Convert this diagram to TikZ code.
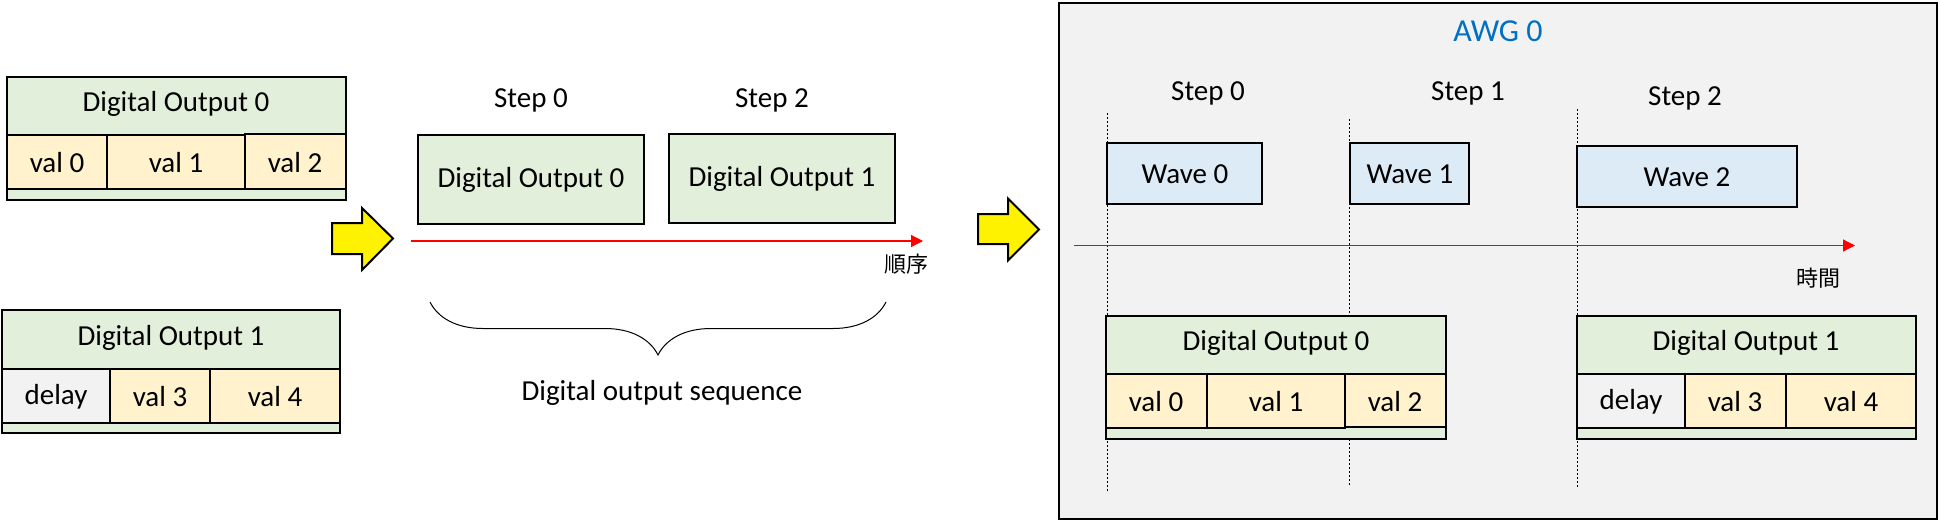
\documentclass[tikz,border=0pt]{standalone}
\usepackage{fontspec}
\setmainfont{Carlito}
\newfontfamily\jpfont{Noto Sans CJK JP}
\usetikzlibrary{arrows.meta,decorations.pathreplacing}
\definecolor{hdrgreen}{HTML}{E2EFDA}
\definecolor{valyellow}{HTML}{FFF2CC}
\definecolor{delaygray}{HTML}{F2F2F2}
\definecolor{waveblue}{HTML}{DDEBF7}
\definecolor{awgblue}{HTML}{0070C0}
\tikzset{
  cell/.style={draw, line width=1pt},
  stepline/.style={dash pattern=on 1pt off 1pt, line width=0.45pt},
  timeline/.style={draw=red, line width=0.6pt, -{Triangle[length=6pt,width=6pt]}},
  bigarrow/.style={draw, fill=yellow, line width=1pt, line join=miter},
  jp/.style={font=\jpfont\fontsize{11}{13}\selectfont}
}
\begin{document}
\begin{tikzpicture}[x=0.5pt, y=-0.5pt, font=\fontsize{14.5}{17}\selectfont]
\useasboundingbox (0,0) rectangle (1939,521);

% Digital Output 0 / 1 on their own
\path[cell, fill=hdrgreen] (7,77) rectangle (346,200);
\path[cell, fill=valyellow] (7,135) rectangle (107,189);
\path[cell, fill=valyellow] (107,135) rectangle (245,189);
\path[cell, fill=valyellow] (245,134) rectangle (346,189);
\node (ldo0) at (176,104) {Digital Output 0};
\node (lval0) at (57,163) {val 0};
\node (lval1) at (176,163) {val 1};
\node (lval2) at (295,163) {val 2};

\path[cell, fill=hdrgreen] (2,310) rectangle (340,433);
\path[cell, fill=delaygray] (2,369) rectangle (110,423);
\path[cell, fill=valyellow] (110,369) rectangle (210,423);
\path[cell, fill=valyellow] (210,369) rectangle (340,423);
\node (ldo1) at (171,338) {Digital Output 1};
\node (ldelay) at (56,397) {delay};
\node (lval3) at (160,397) {val 3};
\node (lval4) at (275,397) {val 4};

\path[bigarrow] (332,223) -- (362,223) -- (362,208) -- (393,238.5)
  -- (362,270) -- (362,254) -- (332,254) -- cycle;

% sequence
\node (sstep0) at (531,100) {Step 0};
\node (sstep2) at (772,100) {Step 2};
\path[cell, fill=hdrgreen] (418,135) rectangle (644,224);
\path[cell, fill=hdrgreen] (669,134) rectangle (895,223);
\node (sdo0) at (531,180) {Digital Output 0};
\node (sdo1) at (782,179) {Digital Output 1};

\coordinate (sstart) at (411,241);
\coordinate (send) at (923,241);
\draw[timeline] (sstart) -- (send);
\node[jp] (order) at (906,264) {順序};

\coordinate (braceL) at (430,302);
\coordinate (braceR) at (886,302);
\draw[line width=0.5pt, decorate, decoration={brace, mirror, amplitude=26.5pt}]
  (braceL) -- (braceR);
\node (seqlabel) at (662,393) {Digital output sequence};

\path[bigarrow] (978,214) -- (1008,214) -- (1008,198.5) -- (1039,229.5)
  -- (1008,260.5) -- (1008,244) -- (978,244) -- cycle;

% AWG 0
\path[draw, line width=1pt, fill=delaygray] (1059,3) rectangle (1937,519);
\node[text=awgblue, font=\fontsize{16}{19}\selectfont] (awg) at (1498,31) {AWG 0};
\node (astep0) at (1208,93) {Step 0};
\node (astep1) at (1468,93) {Step 1};
\node (astep2) at (1685,98) {Step 2};

\draw[stepline] (1107,113) -- (1107,493);
\draw[stepline] (1349.5,119) -- (1349.5,486);
\draw[stepline] (1577,109) -- (1577,487);

\path[cell, fill=waveblue] (1107,143) rectangle (1262,204);
\path[cell, fill=waveblue] (1350,143) rectangle (1469,204);
\path[cell, fill=waveblue] (1577,146) rectangle (1797,207);
\node (wave0) at (1185,174) {Wave 0};
\node (wave1) at (1410,174) {Wave 1};
\node (wave2) at (1687,177) {Wave 2};

\coordinate (tstart) at (1074,245.5);
\coordinate (tend) at (1855,245.5);
\draw[timeline] (tstart) -- (tend);
\node[jp] (time) at (1818,278) {時間};

\path[cell, fill=hdrgreen] (1106,316) rectangle (1446,439);
\path[cell, fill=valyellow] (1106,374) rectangle (1207,428);
\path[cell, fill=valyellow] (1207,374) rectangle (1345,428);
\path[cell, fill=valyellow] (1345,374) rectangle (1446,427);
\node (rdo0) at (1276,343) {Digital Output 0};
\node (rval0) at (1156,402) {val 0};
\node (rval1) at (1276,402) {val 1};
\node (rval2) at (1395,402) {val 2};

\path[cell, fill=hdrgreen] (1577,316) rectangle (1916,439);
\path[cell, fill=delaygray] (1577,374) rectangle (1685,428);
\path[cell, fill=valyellow] (1685,374) rectangle (1786,428);
\path[cell, fill=valyellow] (1786,374) rectangle (1916,428);
\node (rdo1) at (1746,343) {Digital Output 1};
\node (rdelay) at (1631,402) {delay};
\node (rval3) at (1735,402) {val 3};
\node (rval4) at (1851,402) {val 4};
\end{tikzpicture}
\end{document}
